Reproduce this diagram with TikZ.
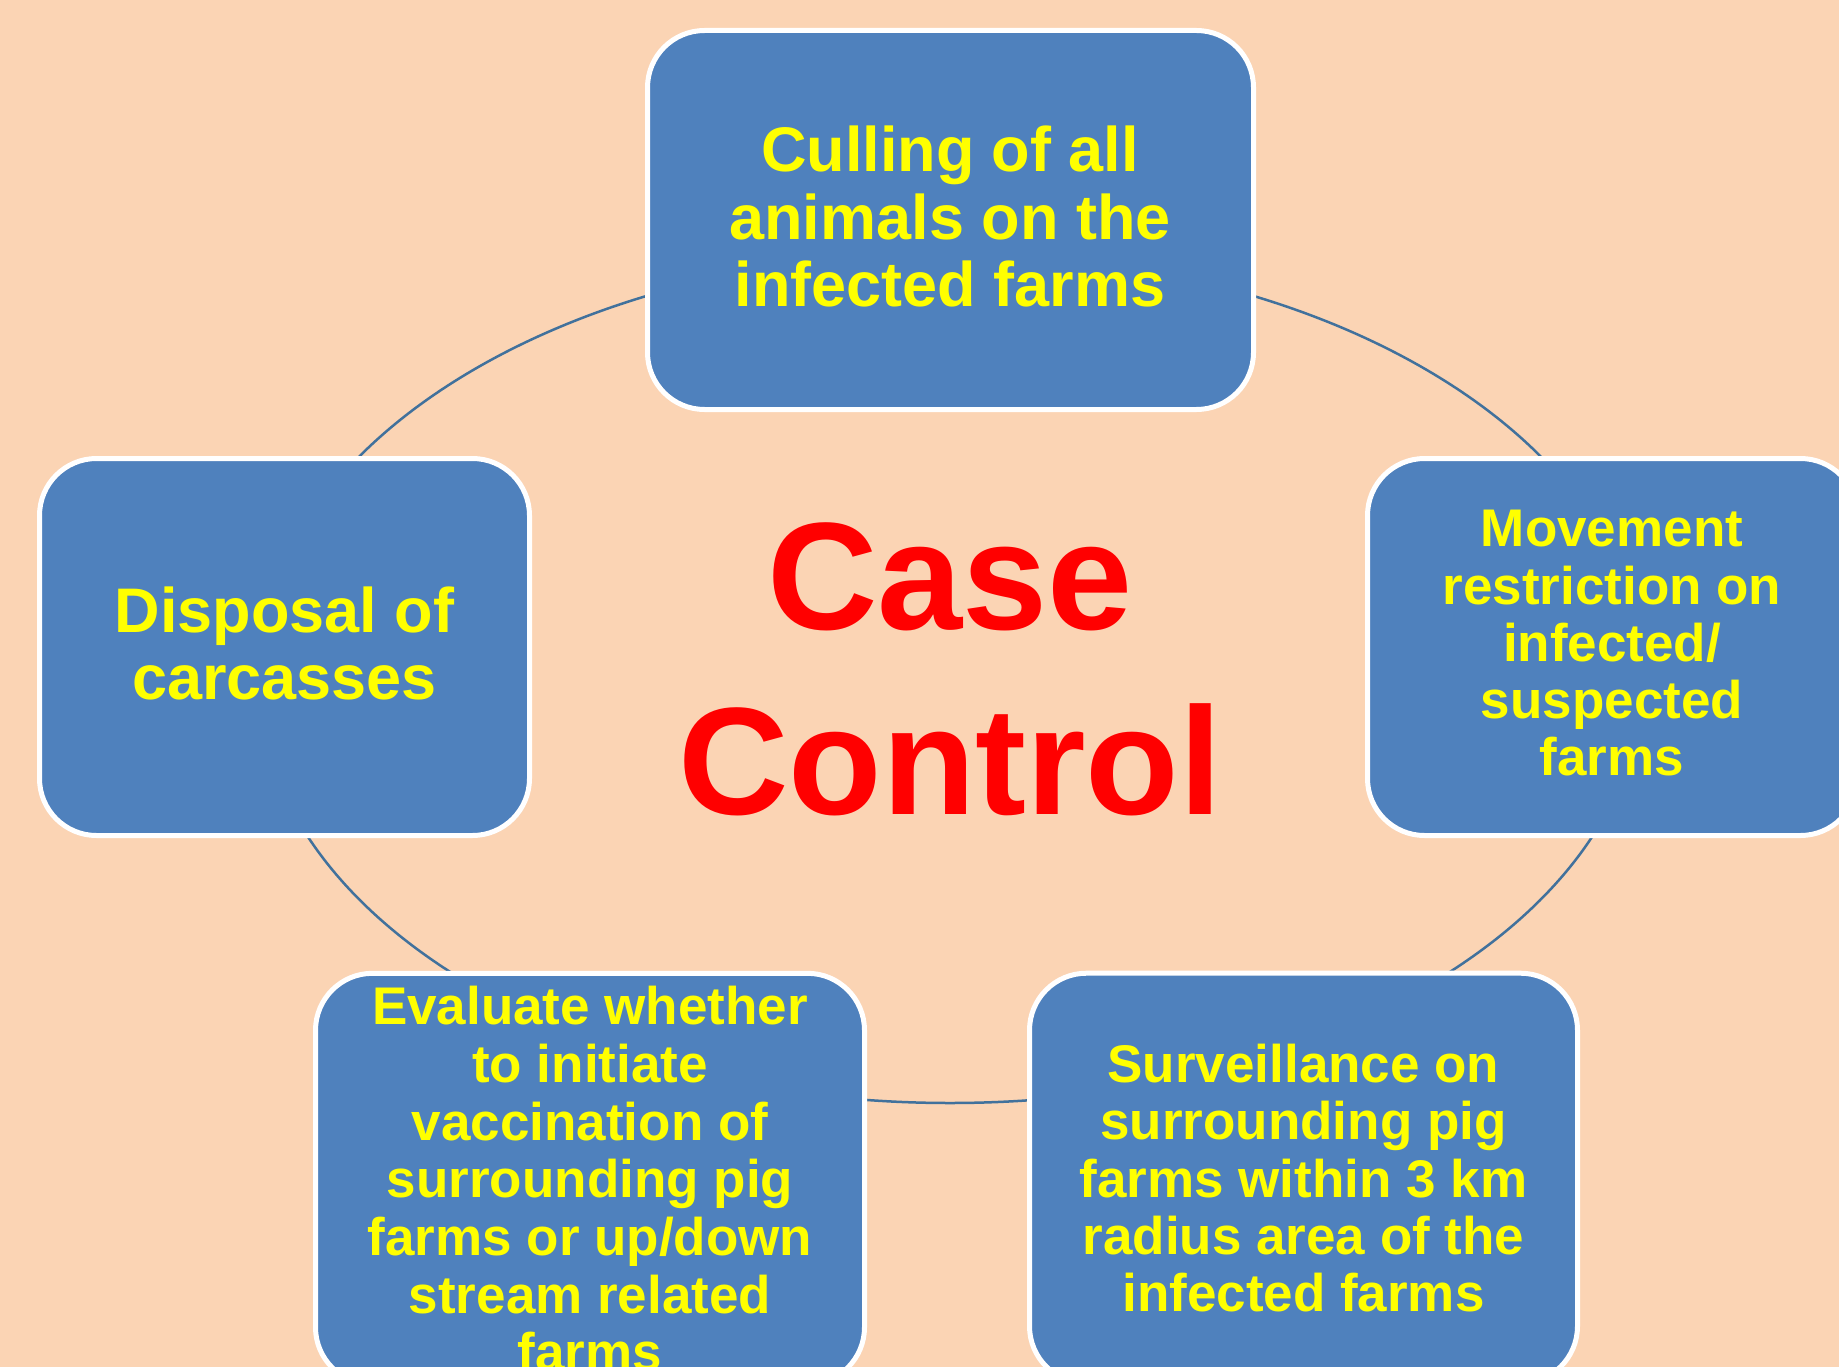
\documentclass[tikz,border=0pt]{standalone}
\usepackage{fontspec}
\setmainfont{Liberation Sans}
\definecolor{bg}{HTML}{FBD4B4}
\definecolor{boxblue}{HTML}{4F81BD}
\definecolor{ring}{HTML}{41719C}
\definecolor{txtyellow}{HTML}{FFFF00}
\definecolor{txtred}{HTML}{FF0000}
\begin{document}
\begin{tikzpicture}[x=1pt,y=-1pt,
  box/.style={draw=white, line width=5pt, fill=boxblue, rounded corners=57pt, inner sep=0pt, outer sep=0pt},
  btext/.style={text=txtyellow, align=center, inner sep=0pt, outer sep=0pt},
]
\useasboundingbox (0,0) rectangle (1839,1367);
\clip (0,0) rectangle (1839,1367);
\fill[bg] (0,0) rectangle (1839,1367);
% ring behind the boxes
\draw[ring, line width=2.5pt] (950,678) ellipse [x radius=692, y radius=425];
% boxes
\node[box, minimum width=606pt, minimum height=379pt] (top) at (950.5,220) {};
\node[box, minimum width=490pt, minimum height=377pt] (left) at (284.5,647) {};
\node[box, minimum width=490pt, minimum height=377pt] (right) at (1612.5,647) {};
\node[box, minimum width=549pt, minimum height=411pt] (evalbox) at (590,1178.8) {};
\node[box, minimum width=548pt, minimum height=410pt] (survbox) at (1303.5,1178.2) {};
% texts
\node[btext, font=\bfseries\fontsize{63pt}{67.5pt}\selectfont] (toptext) at (950,216.5) {Culling of all\\animals on the\\infected farms};
\node[btext, font=\bfseries\fontsize{63pt}{67pt}\selectfont] (lefttext) at (284.5,643.5) {Disposal of\\carcasses};
\node[btext, font=\bfseries\fontsize{53pt}{57.25pt}\selectfont] (righttext) at (1612,643.5) {Movement\\restriction on\\infected/\\suspected\\farms};
\node[btext, font=\bfseries\fontsize{53pt}{57.7pt}\selectfont] (evaltext) at (590,1178.8) {Evaluate whether\\to initiate\\vaccination of\\surrounding pig\\farms or up/down\\stream related\\farms};
\node[btext, font=\bfseries\fontsize{53pt}{57.25pt}\selectfont] (survtext) at (1303.5,1178.2) {Surveillance on\\surrounding pig\\farms within 3 km\\radius area of the\\infected farms};
\node[text=txtred, align=center, inner sep=0pt, font=\bfseries\fontsize{153pt}{185pt}\selectfont] (center) at (950,669.5) {Case\\Control};
\end{tikzpicture}
\end{document}
